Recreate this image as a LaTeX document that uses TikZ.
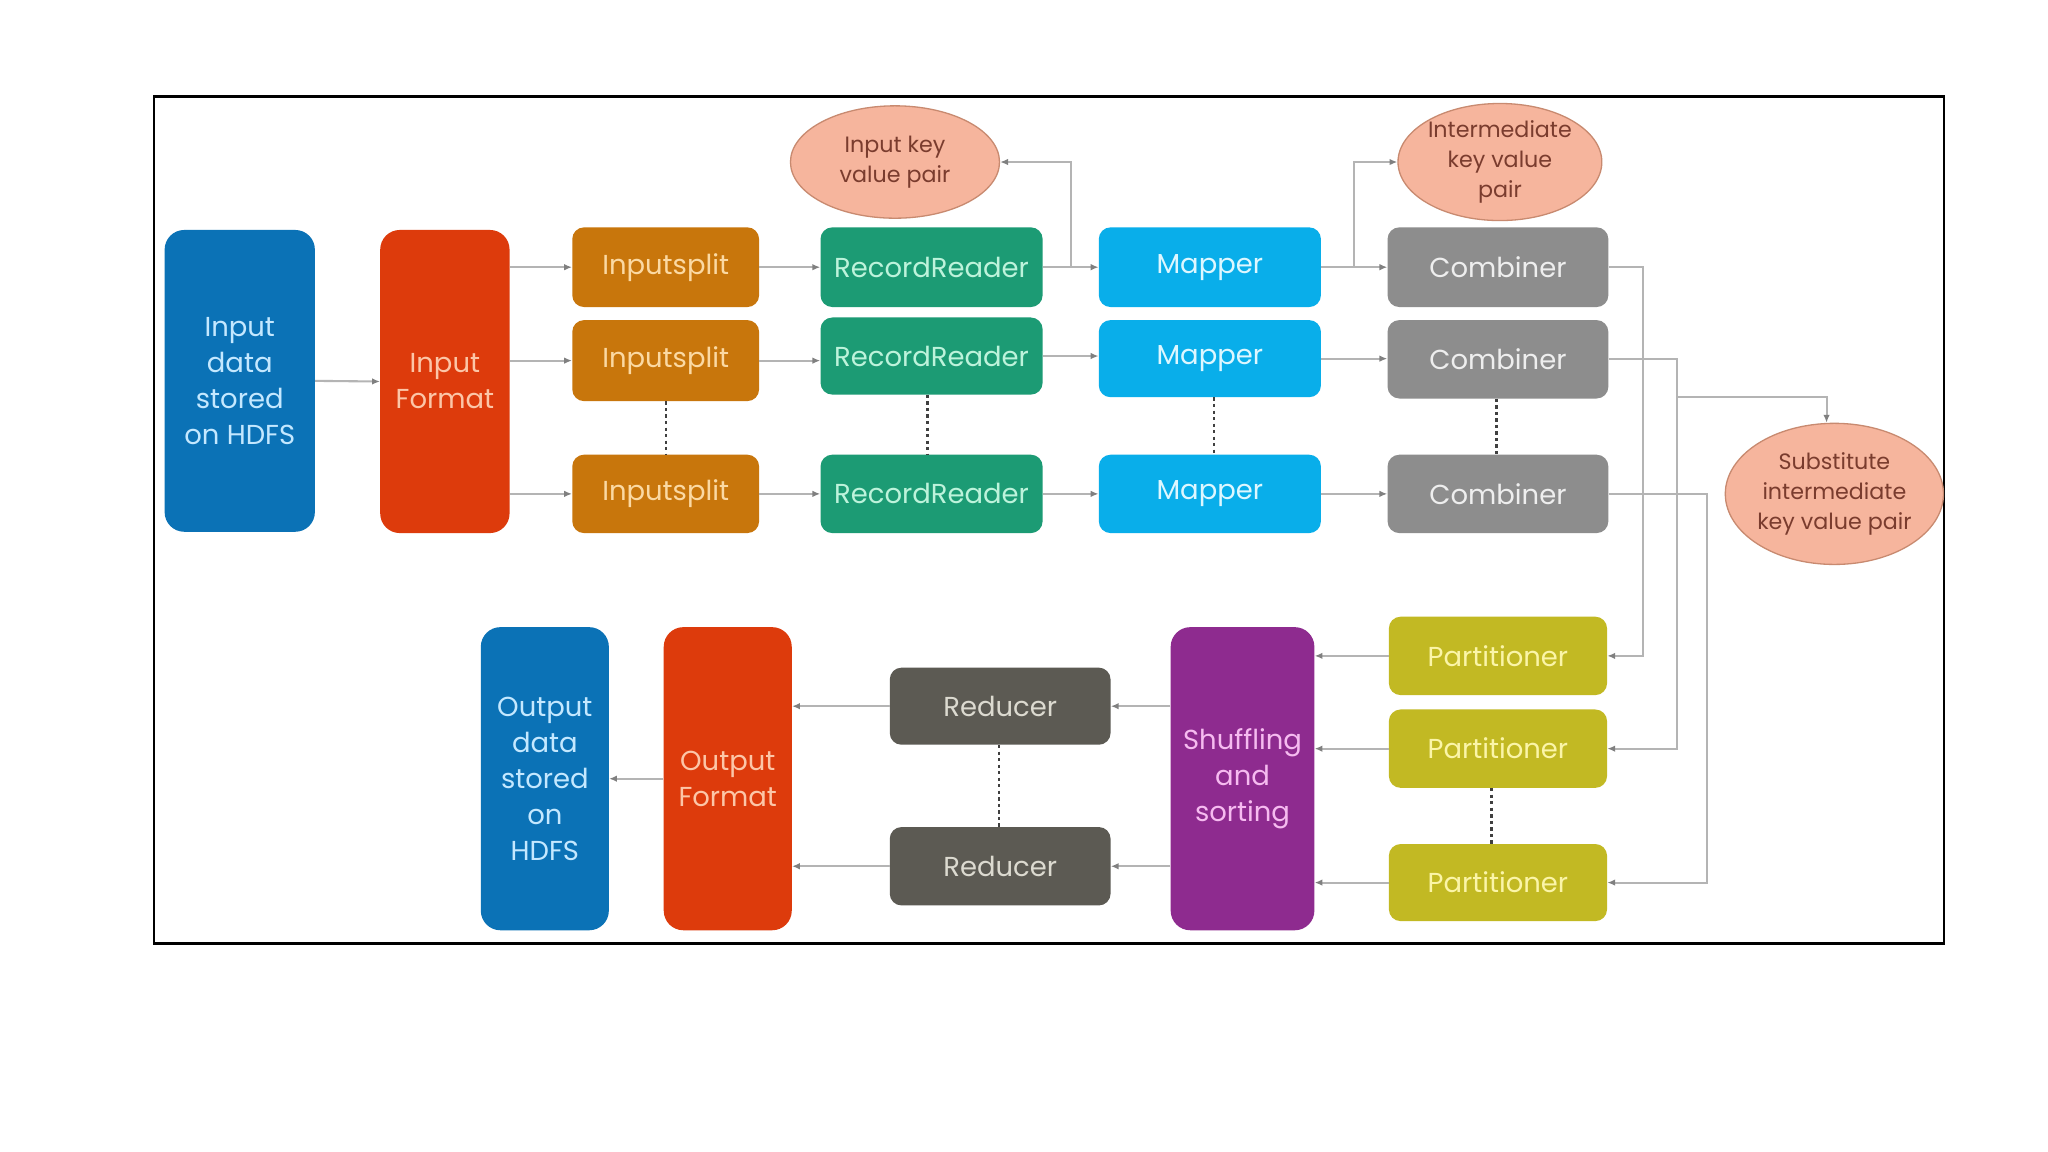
\documentclass[tikz,border=0pt]{standalone}
\usepackage{fontspec}
\setmainfont{Poppins}
\usetikzlibrary{arrows.meta,calc,shapes.geometric}
\definecolor{cblue}{HTML}{0B72B6}\definecolor{tblue}{HTML}{C4E8FF}
\definecolor{cred}{HTML}{DD3B0C}\definecolor{tred}{HTML}{FCC6A8}
\definecolor{corange}{HTML}{C8760C}\definecolor{torange}{HTML}{FBD9A3}
\definecolor{cgreen}{HTML}{1C9B74}\definecolor{tgreen}{HTML}{BDF3DB}
\definecolor{ccyan}{HTML}{09AEEA}\definecolor{tcyan}{HTML}{DDF7FF}
\definecolor{cgrey}{HTML}{8D8D8D}\definecolor{tgrey}{HTML}{EEEEEE}
\definecolor{colive}{HTML}{C2B923}\definecolor{tolive}{HTML}{FBF5A8}
\definecolor{cpurple}{HTML}{8E2B8F}\definecolor{tpurple}{HTML}{F6BBF0}
\definecolor{cdark}{HTML}{5C5A53}\definecolor{tdark}{HTML}{DCDAD0}
\definecolor{csalmon}{HTML}{F6B59D}\definecolor{bsalmon}{HTML}{C88A70}\definecolor{tsalmon}{HTML}{7A3C2E}
\definecolor{lgrey}{HTML}{B4B4B4}
\begin{document}
\begin{tikzpicture}[x=1pt,y=-1pt,
  box/.style={rectangle,rounded corners=9pt,inner sep=0pt,align=center,font=\fontsize{21}{27.5}\selectfont},
  tall/.style={box,rounded corners=15pt},
  kv/.style={ellipse,inner sep=0pt,fill=csalmon,draw=bsalmon,line width=1pt,align=center,text=tsalmon,font=\fontsize{17}{23}\selectfont},
  conn/.style={draw=lgrey,line width=1.6pt,-{Latex[length=6pt,width=5pt,gray]}},
  dotline/.style={draw=black!75,line width=1.8pt,dash pattern=on 2.5pt off 2.5pt}]
\useasboundingbox (0,0) rectangle (1567.5,881.7);
\fill[white] (0,0) rectangle (1567.5,881.7);
\draw[line width=2pt] (118,74) rectangle (1488,722);
% top row
\node[tall,fill=cblue,text=tblue,minimum width=115pt,minimum height=231pt] (ih) at (183.5,291.5) {Input\\data\\stored\\on HDFS};
\node[tall,fill=cred,text=tred,minimum width=99pt,minimum height=232pt] (inf) at (340.5,292) {Input\\Format};
\foreach \n/\y/\h in {1/204.5/61,2/276/62,3/378/60}
  \node[box,fill=corange,text=torange,minimum width=143pt,minimum height=\h pt] (is\n) at (509.5,\y) {Inputsplit};
\foreach \n/\y/\h in {1/204.5/61,2/272.5/59,3/378/60}
  \node[box,fill=cgreen,text=tgreen,minimum width=170pt,minimum height=\h pt] (rr\n) at (713,\y) {RecordReader};
\foreach \n/\y/\h in {1/204.5/61,2/274.5/59,3/378/60}
  \node[box,fill=ccyan,text=tcyan,minimum width=170pt,minimum height=\h pt] (m\n) at (926,\y) {Mapper};
\foreach \n/\y/\h in {1/204.5/61,2/275/60,3/378/60}
  \node[box,fill=cgrey,text=tgrey,minimum width=169pt,minimum height=\h pt] (c\n) at (1146.5,\y) {Combiner};
\node[kv,minimum width=160pt,minimum height=86pt] (e1) at (685,124) {Input key\\value pair};
\node[kv,minimum width=156pt,minimum height=86pt] (e2) at (1148,124) {Intermediate\\key value\\pair};
\node[kv,minimum width=160pt,minimum height=108pt] (e3) at (1404,378) {Substitute\\intermediate\\key value pair};
% bottom row
\node[tall,fill=cblue,text=tblue,minimum width=98pt,minimum height=232pt] (oh) at (417,596) {Output\\data\\stored\\on\\HDFS};
\node[tall,fill=cred,text=tred,minimum width=98pt,minimum height=232pt] (of) at (557,596) {Output\\Format};
\node[box,fill=cdark,text=tdark,minimum width=169pt,minimum height=59pt] (r1) at (765.5,540.5) {Reducer};
\node[box,fill=cdark,text=tdark,minimum width=169pt,minimum height=60pt] (r2) at (765.5,663) {Reducer};
\node[tall,fill=cpurple,text=tpurple,minimum width=110pt,minimum height=232pt] (sh) at (951,596) {Shuffling\\and\\sorting};
\foreach \n/\y/\h in {1/502/60,2/573/60,3/675.5/59}
  \node[box,fill=colive,text=tolive,minimum width=167pt,minimum height=\h pt] (p\n) at (1146.5,\y) {Partitioner};
% connectors
\draw[conn] (ih.east) -- (inf.west);
\foreach \n in {1,2,3}{
  \draw[conn] (inf.east |- is\n.west) -- (is\n.west);
  \draw[conn] (is\n.east) -- (rr\n.west |- is\n.east);
  \draw[conn] (rr\n.east) -- (m\n.west |- rr\n.east);
  \draw[conn] (m\n.east) -- (c\n.west |- m\n.east);
  \draw[conn] (p\n.west) -- (p\n.west -| sh.east);
}
\draw[conn] ($(rr1.east)!0.5!(m1.west)$) |- (e1.east);
\draw[conn] ($(m1.east)!0.5!(c1.west)$) |- (e2.west);
\draw[conn] (c1.east) -- ++(26,0) |- (p1.east);
\draw[conn] (c2.east) -- ++(52,0) |- (p2.east);
\draw[conn] (c3.east) -- ++(75,0) |- (p3.east);
\coordinate (j2) at ($(c2.east)+(52,29)$);
\draw[conn] (j2) -| ($(e3.north)+(-6,0)$);
\draw[conn] (sh.west |- r1.east) -- (r1.east);
\draw[conn] (sh.west |- r2.east) -- (r2.east);
\draw[conn] (r1.west) -- (r1.west -| of.east);
\draw[conn] (r2.west) -- (r2.west -| of.east);
\draw[conn] (of.west) -- (oh.east);
% dotted
\draw[dotline] (is2.south) -- (is3.north);
\draw[dotline] ($(rr2.south)+(-3,0)$) -- ($(rr3.north)+(-3,0)$);
\draw[dotline] ($(m2.south)+(3,0)$) -- ($(m3.north)+(3,0)$);
\draw[dotline] ($(c2.south)+(-1,0)$) -- ($(c3.north)+(-1,0)$);
\draw[dotline] ($(r1.south)+(-1,0)$) -- ($(r2.north)+(-1,0)$);
\draw[dotline] ($(p2.south)+(-5,0)$) -- ($(p3.north)+(-5,0)$);
\end{tikzpicture}
\end{document}
